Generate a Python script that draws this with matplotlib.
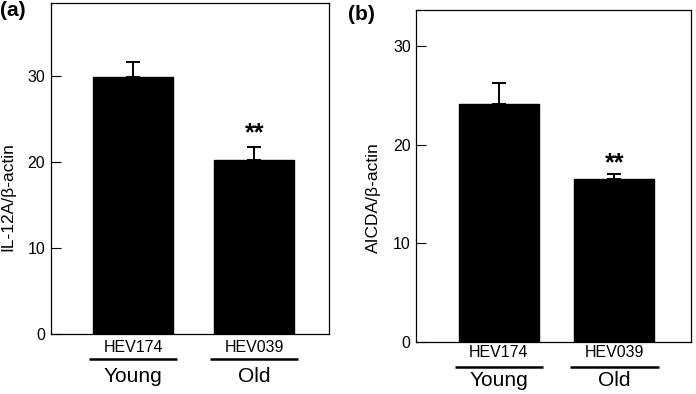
import numpy as np
import matplotlib.pyplot as plt
from matplotlib.transforms import blended_transform_factory

plt.rcParams['font.family'] = ['Liberation Sans', 'DejaVu Sans']

W, H = 696, 394

cell_lines = ['HEV174', 'HEV039']
groups = ['Young', 'Old']

il12a = [29.9, 20.2]
il12a_err = [1.7, 1.5]

aicda = [24.1, 16.5]
aicda_err = [2.2, 0.5]

sig = ['', '**']


def panel(rect_px, vals, errs, ylim, xlim, width, ylabel, tag, tag_xy, ylab_xy, lab_y, star_y):
    x0, y0, x1, y1 = rect_px  # pixel box (left, top, right, bottom)
    ax = fig.add_axes([x0 / W, 1 - y1 / H, (x1 - x0) / W, (y1 - y0) / H])
    x = np.arange(len(vals))
    ax.bar(x, vals, width=width, color='black', edgecolor='black', zorder=2)
    ax.errorbar(x, vals, yerr=[np.zeros(len(errs)), errs], fmt='none',
                ecolor='black', elinewidth=1.4, capsize=5, capthick=1.4, zorder=1)
    tr = blended_transform_factory(ax.transData, fig.transFigure)
    for xi, s in zip(x, sig):
        if s:
            ax.text(xi, 1 - star_y / H, s, transform=tr, ha='center', va='center',
                    fontsize=18, fontweight='bold')
    ax.set_ylim(0, ylim)
    ax.set_xlim(*xlim)
    ax.set_yticks([0, 10, 20, 30])
    ax.set_xticks([])
    ax.tick_params(axis='y', direction='in', length=7, labelsize=11.5, pad=4)
    for sp in ax.spines.values():
        sp.set_linewidth(0.9)
    ax.set_ylabel(ylabel, fontsize=12.5)
    ax.yaxis.set_label_coords((ylab_xy[0] - x0) / (x1 - x0),
                              (y1 - ylab_xy[1]) / (y1 - y0))

    hv_y, ul_y, gr_y = lab_y
    for xi, cl, gr in zip(x, cell_lines, groups):
        ax.text(xi, 1 - hv_y / H, cl, transform=tr, ha='center', va='center',
                fontsize=11.5, clip_on=False)
        ax.plot([xi - width * 0.55, xi + width * 0.55], [1 - ul_y / H] * 2,
                color='black', lw=1.8, transform=tr, clip_on=False,
                solid_capstyle='butt')
        ax.text(xi, 1 - gr_y / H, gr, transform=tr, ha='center', va='center',
                fontsize=15, clip_on=False)
    fig.text(tag_xy[0] / W, 1 - tag_xy[1] / H, tag, fontsize=15,
             fontweight='bold', ha='left', va='center')
    return ax


fig = plt.figure(figsize=(W / 100, H / 100), dpi=100)

panel((50.7, 2.7, 329, 334), il12a, il12a_err, 38.5, (-0.679, 1.617), 0.656,
      'IL-12A/β-actin', '(a)', (0, 11), (15, 197), (348, 359, 376), 133)
panel((416.3, 10, 691.3, 341.7), aicda, aicda_err, 33.7, (-0.716, 1.667), 0.696,
      'AICDA/β-actin', '(b)', (348, 14), (381, 198), (352.5, 366.5, 381), 163)

fig.savefig('out.png', dpi=100)
